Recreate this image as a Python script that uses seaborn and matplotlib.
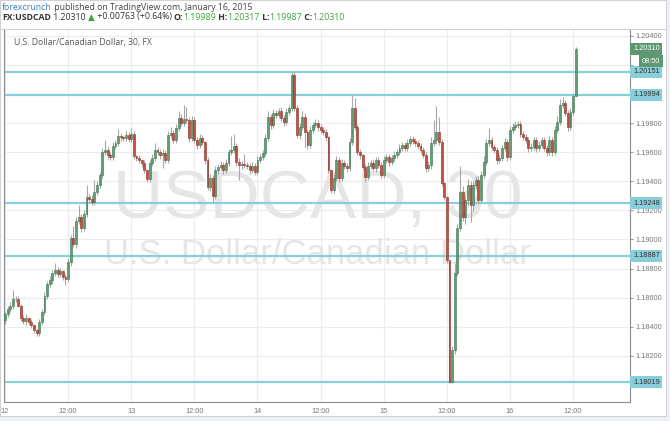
import matplotlib
matplotlib.use("Agg")
import matplotlib.pyplot as plt
from matplotlib.patches import Rectangle
from matplotlib.lines import Line2D
import pandas as pd
import seaborn as sns

# ---- data (USDCAD, 30 min candles, 12-16 Jan 2015) ----
first_open = 1.18447
closes = [
    1.18488, 1.18522, 1.18543, 1.18591, 1.18588, 1.18543, 1.18460, 1.18440, 1.18460, 1.18433, 1.18412, 1.18378,
    1.18357, 1.18433, 1.18502, 1.18612, 1.18694, 1.18721, 1.18770, 1.18790, 1.18763, 1.18783, 1.18742, 1.18728,
    1.18845, 1.19011, 1.18969, 1.19127, 1.19154, 1.19079, 1.19175, 1.19291, 1.19278, 1.19257, 1.19325, 1.19374,
    1.19442, 1.19600, 1.19614, 1.19580, 1.19566, 1.19642, 1.19662, 1.19711, 1.19704, 1.19697, 1.19718, 1.19690,
    1.19724, 1.19573, 1.19559, 1.19545, 1.19525, 1.19477, 1.19415, 1.19525, 1.19559, 1.19614, 1.19600, 1.19580,
    1.19594, 1.19545, 1.19718, 1.19731, 1.19683, 1.19766, 1.19834, 1.19800, 1.19827, 1.19821, 1.19697, 1.19821,
    1.19683, 1.19649, 1.19697, 1.19669, 1.19545, 1.19360, 1.19422, 1.19298, 1.19477, 1.19497, 1.19511, 1.19477,
    1.19525, 1.19600, 1.19614, 1.19642, 1.19532, 1.19511, 1.19518, 1.19511, 1.19504, 1.19477, 1.19504, 1.19463,
    1.19545, 1.19566, 1.19594, 1.19697, 1.19841, 1.19786, 1.19869, 1.19855, 1.19882, 1.19834, 1.19807, 1.19876,
    1.19903, 1.20130, 1.19903, 1.19718, 1.19773, 1.19841, 1.19738, 1.19649, 1.19752, 1.19786, 1.19800, 1.19773,
    1.19752, 1.19738, 1.19704, 1.19477, 1.19339, 1.19422, 1.19545, 1.19422, 1.19525, 1.19504, 1.19490, 1.19669,
    1.19903, 1.19773, 1.19600, 1.19580, 1.19497, 1.19428, 1.19504, 1.19525, 1.19490, 1.19545, 1.19511, 1.19442,
    1.19545, 1.19566, 1.19532, 1.19559, 1.19580, 1.19600, 1.19628, 1.19649, 1.19628, 1.19662, 1.19690, 1.19676,
    1.19662, 1.19642, 1.19614, 1.19580, 1.19490, 1.19511, 1.19662, 1.19683, 1.19738, 1.19669, 1.19387, 1.19291,
    1.18859, 1.18021, 1.18241, 1.18770, 1.19079, 1.19325, 1.19154, 1.19271, 1.19374, 1.19237, 1.19374, 1.19408,
    1.19271, 1.19442, 1.19532, 1.19662, 1.19683, 1.19635, 1.19614, 1.19545, 1.19559, 1.19628, 1.19669, 1.19566,
    1.19752, 1.19773, 1.19786, 1.19793, 1.19724, 1.19704, 1.19683, 1.19628, 1.19635, 1.19683, 1.19628, 1.19649,
    1.19683, 1.19628, 1.19600, 1.19683, 1.19600, 1.19752, 1.19807, 1.19924, 1.19937, 1.19869, 1.19773, 1.19876,
    1.19989, 1.20310,
]
# wick lengths beyond the body, in pips
wick_up = [
    2, 2, 3, 6, 2, 2, 1, 2, 3, 1, 2, 1, 1, 2, 2, 3, 2, 3, 2, 5, 2, 2, 1, 2,
    3, 2, 8, 3, 8, 2, 3, 8, 2, 3, 8, 3, 2, 3, 7, 2, 2, 3, 2, 5, 2, 1, 3, 2,
    4, 2, 1, 2, 1, 2, 1, 2, 3, 5, 2, 2, 3, 2, 3, 4, 2, 3, 5, 3, 10, 8, 2, 3,
    2, 2, 3, 2, 1, 2, 3, 2, 3, 2, 3, 2, 3, 2, 10, 8, 2, 3, 2, 7, 2, 2, 3, 2,
    3, 2, 2, 3, 4, 2, 3, 2, 2, 3, 2, 3, 2, 2, 2, 2, 3, 4, 3, 2, 3, 2, 3, 2,
    2, 2, 2, 1, 1, 3, 3, 2, 3, 2, 2, 3, 9, 7, 2, 2, 1, 2, 3, 2, 3, 2, 2, 2,
    3, 2, 2, 2, 3, 2, 3, 2, 2, 3, 2, 2, 2, 2, 2, 2, 2, 3, 4, 14, 18, 10, 2, 1,
    1, 0, 3, 7, 3, 18, 4, 3, 4, 3, 3, 3, 3, 3, 4, 3, 8, 2, 2, 2, 3, 2, 3, 2,
    3, 3, 3, 2, 2, 2, 2, 2, 3, 2, 2, 3, 2, 2, 2, 3, 2, 3, 4, 4, 4, 2, 2, 3, 2, 1,
]
wick_dn = [
    3, 2, 2, 2, 2, 1, 2, 2, 3, 2, 2, 2, 2, 2, 2, 2, 2, 2, 3, 2, 2, 2, 2, 4,
    2, 3, 2, 3, 2, 3, 2, 2, 3, 2, 2, 2, 2, 2, 2, 3, 2, 2, 2, 2, 3, 2, 2, 2,
    2, 2, 2, 2, 3, 2, 2, 2, 2, 2, 2, 3, 9, 2, 2, 2, 2, 2, 2, 2, 2, 2, 3, 2,
    2, 3, 2, 2, 3, 2, 3, 4, 2, 3, 2, 3, 2, 2, 2, 2, 3, 10, 3, 2, 2, 3, 2, 2,
    2, 2, 2, 2, 2, 3, 2, 2, 2, 2, 3, 2, 2, 2, 2, 2, 3, 2, 10, 3, 2, 2, 2, 3,
    2, 2, 2, 2, 2, 3, 2, 3, 2, 2, 3, 2, 2, 2, 2, 3, 2, 3, 2, 2, 2, 3, 2, 2,
    2, 2, 3, 2, 2, 2, 2, 2, 2, 2, 2, 2, 2, 2, 2, 2, 3, 2, 3, 2, 3, 2, 2, 2,
    2, 1, 1, 3, 2, 2, 3, 5, 4, 12, 4, 3, 3, 2, 2, 2, 2, 2, 2, 3, 2, 2, 2, 3,
    2, 2, 2, 2, 2, 2, 2, 3, 2, 2, 3, 2, 2, 2, 3, 2, 3, 2, 2, 2, 2, 2, 3, 2, 2, 0,
]

time_labels = ["12", "12:00", "13", "12:00", "14", "12:00", "15", "12:00", "16", "12:00"]
price_ticks = [1.182, 1.184, 1.186, 1.188, 1.190, 1.192, 1.194, 1.196, 1.198, 1.200, 1.202, 1.204]
hidden_ticks = [1.200, 1.202]  # covered by the price tags in the reference
levels = [1.20151, 1.19994, 1.19248, 1.18887, 1.18019]
last_price = 1.20310
countdown = "08:50"

# candles open where the previous one closed
opens = [first_open] + closes[:-1]
pip = 0.0001
df = pd.DataFrame({"open": opens, "close": closes, "up": wick_up, "dn": wick_dn})
df["i"] = range(len(df))
df["high"] = df[["open", "close"]].max(axis=1) + df["up"] * pip
df["low"] = df[["open", "close"]].min(axis=1) - df["dn"] * pip
df["rising"] = df["close"] >= df["open"]

sns.set_theme(style="white")
plt.rcParams["font.family"] = ["Liberation Sans", "DejaVu Sans"]

W, H = 670, 421
fig = plt.figure(figsize=(W / 100, H / 100), dpi=100)
fig.patch.set_facecolor("#eef1f5")
fig.add_artist(Rectangle((0, 1 - 416 / H), 666 / W, 416 / H, transform=fig.transFigure,
                         fc="white", ec="#cfd3d8", lw=0.8, zorder=-1))
fig.add_artist(Line2D([0, 666 / W], [1 - 28.5 / H] * 2, transform=fig.transFigure,
                      color="#d0d0d0", lw=0.8))

ax = fig.add_axes([4 / W, 1 - 402 / H, 626 / W, 373 / H])
ax.set_facecolor("white")
x0 = -1 / 2.63
ax.set_xlim(x0, x0 + 626 / 2.63)
ax.set_ylim(1.17883, 1.20446)

# grid and ticks
ax.set_xticks(range(0, 24 * len(time_labels), 24))
ax.set_xticklabels(time_labels)
ax.set_yticks(price_ticks)
ax.set_yticklabels(["" if p in hidden_ticks else f"{p:.5f}" for p in price_ticks])
ax.grid(True, color="#ececec", lw=0.8)
ax.set_axisbelow(True)
ax.yaxis.tick_right()
ax.tick_params(axis="y", which="both", right=True, left=False, length=2.5, width=0.6,
               color="#888888", pad=1.5, labelsize=5.3, labelcolor="#777777")
ax.tick_params(axis="x", length=0, pad=4, labelsize=5.3, labelcolor="#777777")
for side in ["left", "right", "bottom"]:
    ax.spines[side].set_color("#8c8c8c")
    ax.spines[side].set_linewidth(0.8)
ax.spines["top"].set_visible(False)

# watermark, behind the candles
ax.text(318 / W, 1 - 218 / H, "USDCAD, 30", transform=fig.transFigure, fontsize=50,
        color="#e6e6e6", ha="center", va="baseline", zorder=1)
ax.text(317 / W, 1 - 264 / H, "U.S. Dollar/Canadian Dollar", transform=fig.transFigure,
        fontsize=25, color="#e6e6e6", ha="center", va="baseline", zorder=1)

# support / resistance levels
for lv in levels:
    ax.axhline(lv, color="#88cfdb", lw=1.6, zorder=1.8)

# candles
ax.vlines(df["i"], df["low"], df["high"], color="#a8a8a8", lw=0.8, zorder=2)
bottom = df[["open", "close"]].min(axis=1)
height = (df["close"] - df["open"]).abs().clip(lower=0.00004)
up = df["rising"]
ax.bar(df["i"][up], height[up], bottom=bottom[up], width=0.72,
       color="#5f9d74", edgecolor="#3b7550", lw=0.4, zorder=3)
ax.bar(df["i"][~up], height[~up], bottom=bottom[~up], width=0.72,
       color="#c3503f", edgecolor="#8e2f22", lw=0.4, zorder=3)

ax.text(10 / 626, 1 - 13 / 373, "U.S. Dollar/Canadian Dollar, 30, FX", transform=ax.transAxes,
        fontsize=6.2, color="#555555", ha="left", va="center", zorder=4,
        family=["Open Sans", "DejaVu Sans"])

# price tags on the right axis
yax = ax.get_yaxis_transform()
for lv in levels:
    ax.text(1 + 3 / 626, lv, f"{lv:.5f}", transform=yax, ha="left", va="center", fontsize=5.3,
            color="#333333", clip_on=False, zorder=6,
            bbox=dict(boxstyle="square,pad=0.35", fc="#88cfdb", ec="none"))
ax.text(1 + 3 / 626, last_price, f"{last_price:.5f}", transform=yax, ha="left", va="center",
        fontsize=5.3, color="white", clip_on=False, zorder=6,
        bbox=dict(boxstyle="square,pad=0.35", fc="#5c9970", ec="none"))
ax.text(1 + 12 / 626, 1.20226, countdown, transform=yax, ha="left", va="center",
        fontsize=5.3, color="white", clip_on=False, zorder=6,
        bbox=dict(boxstyle="square,pad=0.35", fc="#5c9970", ec="none"))

# header lines
renderer = fig.canvas.get_renderer()


def header_line(parts, x_px, y_px, size):
    x = x_px / W
    for text, color, weight in parts:
        t = fig.text(x, 1 - y_px / H, text, color=color, fontsize=size, fontweight=weight,
                     ha="left", va="center", family=["Open Sans", "DejaVu Sans"])
        x = t.get_window_extent(renderer).x1 / W


dark, green = "#333333", "#3aa53a"
header_line([("forexcrunch", "#3b7fc4", "normal"),
             (" published on TradingView.com, January 16, 2015", "#444444", "normal")], 2, 7, 6.3)
header_line([("FX:USDCAD", dark, "bold"), (" 1.20310 ", dark, "normal"), ("▲", green, "normal"),
             (" +0.00763 (+0.64%) ", dark, "normal"),
             ("O:", dark, "bold"), ("1.19989", green, "normal"),
             (" H:", dark, "bold"), ("1.20317", green, "normal"),
             (" L:", dark, "bold"), ("1.19987", green, "normal"),
             (" C:", dark, "bold"), ("1.20310", green, "normal")], 2, 17, 6.3)

fig.savefig("out.png", dpi=100, facecolor=fig.get_facecolor())
